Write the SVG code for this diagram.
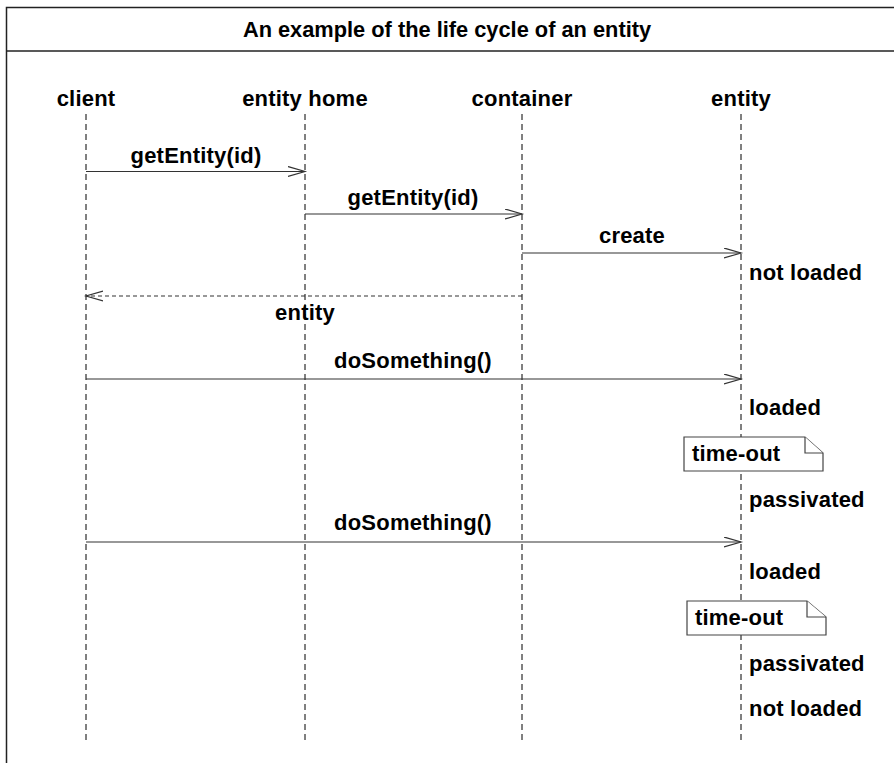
<svg xmlns="http://www.w3.org/2000/svg" width="894" height="763" viewBox="0 0 894 763">
<defs>
<style>
text{font-family:"Liberation Sans",Arial,Helvetica,sans-serif;font-weight:bold;font-size:22px;fill:#000;letter-spacing:0.2px}
.c{text-anchor:middle}
.t{font-size:21.8px;letter-spacing:0}
.life{stroke:#000;stroke-width:1;stroke-dasharray:6 4;fill:none}
.msg{stroke:#333;stroke-width:1.2;fill:none}
.ret{stroke:#333;stroke-width:1.2;stroke-dasharray:4 3;fill:none}
.frame{stroke:#222;stroke-width:1.5;fill:#fff}
.note{stroke:#444;stroke-width:1.2;fill:#fff}
</style>
<marker id="open" markerWidth="20" markerHeight="12" refX="17" refY="5.5" orient="auto" markerUnits="userSpaceOnUse">
<path d="M0,0.5 L17,5.5 L0,10.5" fill="none" stroke="#333" stroke-width="1.2"/>
</marker>
</defs>
<g id="frame">
<rect class="frame" x="6.5" y="7.5" width="900" height="770"/>
<line x1="6.5" y1="51" x2="900" y2="51" stroke="#222" stroke-width="1.5"/>
<text class="c t" x="447" y="37">An example of the life cycle of an entity</text>
</g>
<g id="client">
<text class="c" x="86" y="106">client</text>
<line class="life" x1="86" y1="114" x2="86" y2="744"/>
</g>
<g id="entity-home">
<text class="c" x="305" y="106">entity home</text>
<line class="life" x1="305" y1="114" x2="305" y2="744"/>
</g>
<g id="container">
<text class="c" x="522" y="106">container</text>
<line class="life" x1="522" y1="114" x2="522" y2="744"/>
</g>
<g id="entity">
<text class="c" x="741" y="106">entity</text>
<line class="life" x1="741" y1="114" x2="741" y2="744"/>
</g>
<g id="connectors">
<line class="msg" x1="86" y1="171.5" x2="305" y2="171.5" marker-end="url(#open)"/>
<line class="msg" x1="305" y1="214" x2="522" y2="214" marker-end="url(#open)"/>
<line class="msg" x1="522" y1="253" x2="741" y2="253" marker-end="url(#open)"/>
<line class="ret" x1="522" y1="296" x2="86" y2="296" marker-end="url(#open)"/>
<line class="msg" x1="86" y1="379" x2="741" y2="379" marker-end="url(#open)"/>
<line class="msg" x1="86" y1="542" x2="741" y2="542" marker-end="url(#open)"/>
</g>
<g id="labels">
<text class="c" x="196" y="163">getEntity(id)</text>
<text class="c" x="413" y="205">getEntity(id)</text>
<text class="c" x="632" y="243">create</text>
<text class="c" x="305" y="320">entity</text>
<text class="c" x="413" y="368">doSomething()</text>
<text class="c" x="413" y="530">doSomething()</text>
<text x="749" y="280">not loaded</text>
<text x="749" y="415">loaded</text>
<text x="749" y="507">passivated</text>
<text x="749" y="579">loaded</text>
<text x="749" y="671">passivated</text>
<text x="749" y="716">not loaded</text>
</g>
<g id="note1">
<path class="note" d="M684,437 H805 L823,453 V471 H684 Z"/>
<path class="note" d="M805,437 V453 H823"/>
<text x="692" y="461">time-out</text>
</g>
<g id="note2">
<path class="note" d="M687,601 H807 L826,617 V635 H687 Z"/>
<path class="note" d="M807,601 V617 H826"/>
<text x="695" y="625">time-out</text>
</g>
</svg>
